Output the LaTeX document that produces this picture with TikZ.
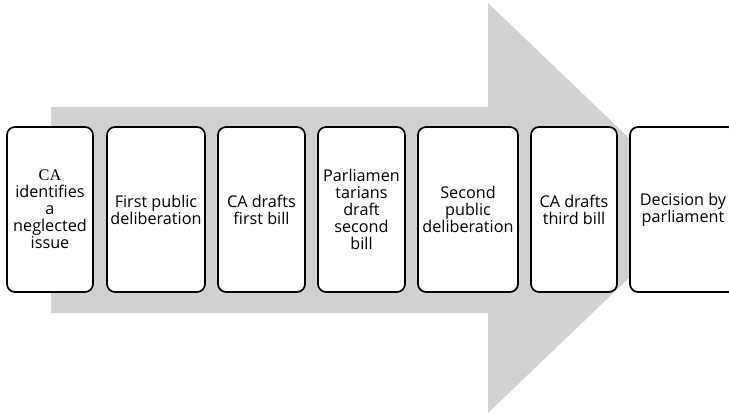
\documentclass[tikz,border=0pt]{standalone}
\usepackage{fontspec}
\setmainfont{Open Sans}
\newfontfamily\caserif{Liberation Serif}
\usepackage{xcolor}
\definecolor{arrowgray}{rgb}{0.82, 0.82, 0.83}
\tikzset{
  stagebox/.style={draw=black, fill=white, line width=1.7pt, rounded corners=8pt,
    minimum height=165pt, inner sep=0pt, align=center,
    font=\fontsize{16.2}{17}\selectfont}
}
\begin{document}
\begin{tikzpicture}[x=1pt,y=-1pt]
\useasboundingbox (0,0) rectangle (729,415);
\begin{scope}
\clip (0,0) rectangle (729,415);
% big arrow behind the stages
\fill[arrowgray] (51,107) -- (488,107) -- (488,3) -- (702,208) -- (488,413)
  -- (488,313) -- (51,313) -- cycle;
\node[stagebox, minimum width=86pt] (identify) at (50,209.5)
  {{\caserif CA}\\identifies\\a\\neglected\\issue};
\node[stagebox, minimum width=98pt] (delib1) at (156,209.5)
  {First public\\deliberation};
\node[stagebox, minimum width=87pt] (bill1) at (261.5,209.5)
  {CA drafts\\first bill};
\node[stagebox, minimum width=87pt] (bill2) at (361.5,209.5)
  {Parliamen\\tarians\\draft\\second\\bill};
\node[stagebox, minimum width=100pt] (delib2) at (468,209.5)
  {Second\\public\\deliberation};
\node[stagebox, minimum width=86pt] (bill3) at (574,209.5)
  {CA drafts\\third bill};
\node[stagebox, minimum width=106pt] (decision) at (683,209.5)
  {Decision by\\parliament};
\end{scope}
\end{tikzpicture}
\end{document}
